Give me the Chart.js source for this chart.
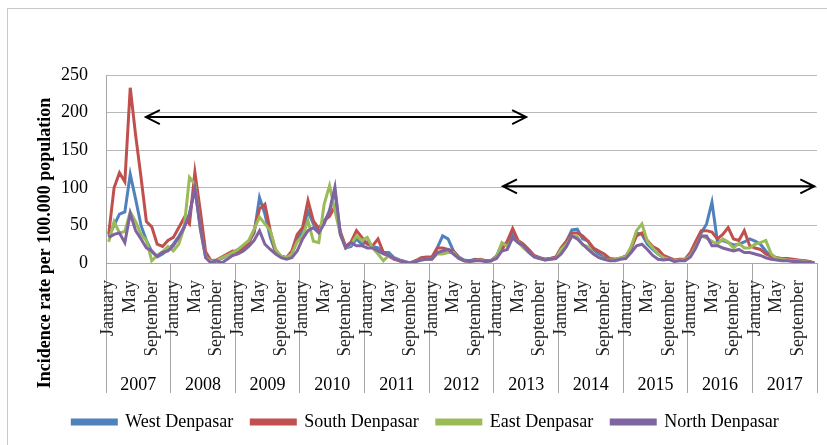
<!DOCTYPE html>
<html>
<head>
<meta charset="utf-8">
<script src="https://cdn.jsdelivr.net/npm/chart.js"></script>
<style>
    body { margin: 0; background: #fff; overflow: hidden; }
    #frame { position: absolute; left: 7px; top: 8px; width: 830px; height: 440px; border: 1px solid #c8c8c8; }
    #myChart { position: absolute; left: 0; top: 0; }
</style>
</head>
<body>
<div id="frame"></div>
<canvas id="myChart" width="827" height="445"></canvas>
<script>
// categories
const years = ['2007', '2008', '2009', '2010', '2011', '2012', '2013', '2014', '2015', '2016', '2017'];
const monthNames = ['January', 'February', 'March', 'April', 'May', 'June', 'July', 'August', 'September', 'October', 'November', 'December'];
const shownMonths = ['January', 'May', 'September'];

// incidence rate per 100.000, Jan 2007 - Dec 2017
const westDenpasar = [
    35, 50, 65, 68, 118, 85, 50, 30, 15, 8, 12, 18,
    25, 35, 48, 65, 98, 50, 10, 2, 3, 6, 10, 14,
    18, 22, 28, 40, 87, 65, 34, 14, 9, 7, 12, 32,
    43, 69, 52, 45, 55, 68, 96, 40, 20, 22, 32, 25,
    28, 22, 20, 14, 14, 7, 4, 2, 0, 3, 5, 5,
    6, 20, 36, 32, 16, 8, 4, 3, 5, 4, 3, 3,
    9, 25, 25, 40, 28, 23, 16, 9, 7, 5, 6, 7,
    20, 29, 44, 45, 32, 29, 18, 12, 7, 5, 5, 6,
    9, 18, 40, 38, 25, 18, 12, 7, 6, 3, 5, 4,
    10, 25, 40, 52, 81, 29, 30, 27, 24, 25, 28, 32,
    29, 25, 16, 9, 7, 5, 5, 4, 3, 3, 2, 0
];
const southDenpasar = [
    38, 100, 120, 108, 233, 170, 114, 55, 48, 25, 22, 30,
    34, 47, 60, 52, 121, 70, 15, 3, 4, 8, 12, 16,
    15, 20, 26, 43, 72, 78, 43, 14, 9, 7, 16, 38,
    47, 83, 56, 46, 56, 62, 75, 42, 22, 28, 43, 34,
    25, 23, 32, 14, 9, 5, 3, 1, 0, 3, 7, 8,
    8, 20, 20, 18, 16, 7, 3, 3, 4, 5, 3, 3,
    9, 18, 29, 46, 30, 25, 18, 10, 7, 5, 6, 8,
    20, 29, 40, 40, 36, 29, 20, 16, 12, 6, 5, 6,
    9, 20, 36, 40, 30, 22, 18, 10, 7, 4, 5, 5,
    14, 29, 43, 43, 41, 32, 38, 47, 32, 30, 43, 23,
    20, 18, 12, 9, 7, 6, 6, 5, 4, 3, 2, 0
];
const eastDenpasar = [
    28, 55, 40, 42, 68, 55, 38, 30, 3, 10, 15, 22,
    16, 25, 47, 114, 105, 45, 8, 2, 3, 7, 10, 14,
    18, 24, 30, 45, 61, 52, 43, 18, 9, 7, 12, 28,
    36, 56, 29, 27, 78, 103, 70, 38, 20, 25, 36, 30,
    34, 20, 12, 3, 10, 6, 3, 1, 0, 2, 4, 5,
    5, 12, 12, 14, 14, 6, 3, 2, 3, 4, 2, 3,
    8, 27, 22, 33, 28, 20, 14, 8, 6, 4, 5, 6,
    18, 25, 36, 35, 24, 22, 12, 8, 5, 4, 4, 7,
    8, 22, 43, 52, 29, 20, 12, 7, 5, 3, 4, 4,
    10, 22, 36, 33, 29, 25, 32, 28, 20, 26, 20, 20,
    25, 27, 30, 12, 6, 5, 4, 3, 3, 2, 1, 0
];
const northDenpasar = [
    34, 38, 40, 27, 66, 43, 32, 20, 16, 9, 14, 16,
    23, 34, 47, 65, 100, 47, 7, 0, 3, 0, 5, 10,
    12, 16, 22, 30, 43, 25, 18, 12, 7, 5, 7, 16,
    32, 43, 47, 40, 52, 70, 101, 38, 20, 27, 23, 23,
    20, 20, 16, 12, 10, 6, 3, 1, 0, 2, 4, 5,
    5, 14, 16, 18, 12, 6, 3, 2, 3, 3, 2, 3,
    6, 16, 18, 34, 27, 23, 14, 8, 6, 4, 5, 6,
    12, 22, 36, 32, 25, 18, 12, 7, 5, 3, 3, 5,
    6, 14, 23, 25, 18, 10, 5, 4, 5, 2, 3, 3,
    8, 20, 36, 36, 23, 23, 20, 18, 16, 18, 14, 14,
    12, 10, 7, 5, 4, 3, 3, 2, 2, 1, 1, 0
];

// period arrows (month index from, month index to, level)
const arrowFrom = [6.9, 73.2];
const arrowTo = [77.5, 131];
const arrowLevel = [194, 102];

const yTitle = 'Incidence rate per 100.000 population';
const serif = "'Liberation Serif', 'Times New Roman', serif";

const labels = [];
years.forEach(y => monthNames.forEach(m => labels.push(m + ' ' + y)));

function makeSet(label, data, color, order) {
    return {
        label: label,
        data: data,
        borderColor: color,
        backgroundColor: color,
        borderWidth: 3,
        pointRadius: 0,
        tension: 0,
        order: order
    };
}

const decorations = {
    id: 'decorations',
    afterDatasetsDraw(chart) {
        const ctx = chart.ctx;
        const x = chart.scales.x;
        const y = chart.scales.y;
        ctx.save();
        ctx.strokeStyle = '#000';
        ctx.lineWidth = 2;
        arrowFrom.forEach((from, k) => {
            let x1 = x.getPixelForValue(from);
            let x2 = x.getPixelForValue(arrowTo[k]);
            let yy = y.getPixelForValue(arrowLevel[k]);
            ctx.beginPath();
            ctx.moveTo(x1, yy);
            ctx.lineTo(x2, yy);
            ctx.moveTo(x1 + 14, yy - 7);
            ctx.lineTo(x1, yy);
            ctx.lineTo(x1 + 14, yy + 7);
            ctx.moveTo(x2 - 14, yy - 7);
            ctx.lineTo(x2, yy);
            ctx.lineTo(x2 - 14, yy + 7);
            ctx.stroke();
        });
        //Y title
        ctx.translate(45, 243);
        ctx.rotate(-Math.PI / 2);
        ctx.fillStyle = '#000';
        ctx.font = 'bold 18px ' + serif;
        ctx.textAlign = 'center';
        ctx.textBaseline = 'middle';
        ctx.fillText(yTitle, 0, 0);
        ctx.restore();
    }
};

new Chart(document.getElementById('myChart'), {
    type: 'line',
    data: {
        labels: labels,
        datasets: [
            makeSet('West Denpasar', westDenpasar, '#4f81bd', 4),
            makeSet('South Denpasar', southDenpasar, '#c0504d', 3),
            makeSet('East Denpasar', eastDenpasar, '#9bbb59', 2),
            makeSet('North Denpasar', northDenpasar, '#8064a2', 1)
        ]
    },
    options: {
        responsive: false,
        animation: false,
        devicePixelRatio: 1,
        layout: {padding: {left: 34, right: 10, top: 75, bottom: 4}},
        scales: {
            y: {
                min: 0,
                max: 250,
                ticks: {
                    stepSize: 50,
                    padding: 18,
                    color: '#000',
                    font: {family: serif, size: 18}
                },
                grid: {color: '#b9b9b9', drawTicks: false},
                border: {color: '#a6a6a6'},
                afterFit: s => { s.width = 72; }
            },
            x: {
                weight: 0,
                offset: true,
                ticks: {
                    autoSkip: false,
                    minRotation: 90,
                    maxRotation: 90,
                    padding: -113,
                    color: '#222',
                    font: {family: serif, size: 18},
                    callback: function (val, idx) {
                        let m = monthNames[idx % 12];
                        return shownMonths.includes(m) ? m : '';
                    }
                },
                grid: {
                    offset: true,
                    drawOnChartArea: false,
                    tickLength: 130,
                    color: c => (c.index === undefined || c.index % 12 === 0) ? '#a6a6a6' : 'rgba(0,0,0,0)'
                },
                border: {color: '#a6a6a6'},
                afterFit: s => { s.height = 92; }
            },
            x2: {
                type: 'category',
                position: 'bottom',
                weight: 1,
                offset: true,
                labels: years,
                ticks: {
                    padding: 11,
                    color: '#000',
                    font: {family: serif, size: 18}
                },
                grid: {display: false},
                border: {display: false},
                afterFit: s => { s.height = 40; }
            }
        },
        plugins: {
            tooltip: {enabled: false},
            legend: {
                position: 'bottom',
                labels: {
                    boxWidth: 44,
                    boxHeight: 4,
                    padding: 18,
                    color: '#000',
                    font: {family: serif, size: 18},
                    sort: (a, b) => a.datasetIndex - b.datasetIndex
                }
            }
        }
    },
    plugins: [decorations]
});
</script>
</body>
</html>
